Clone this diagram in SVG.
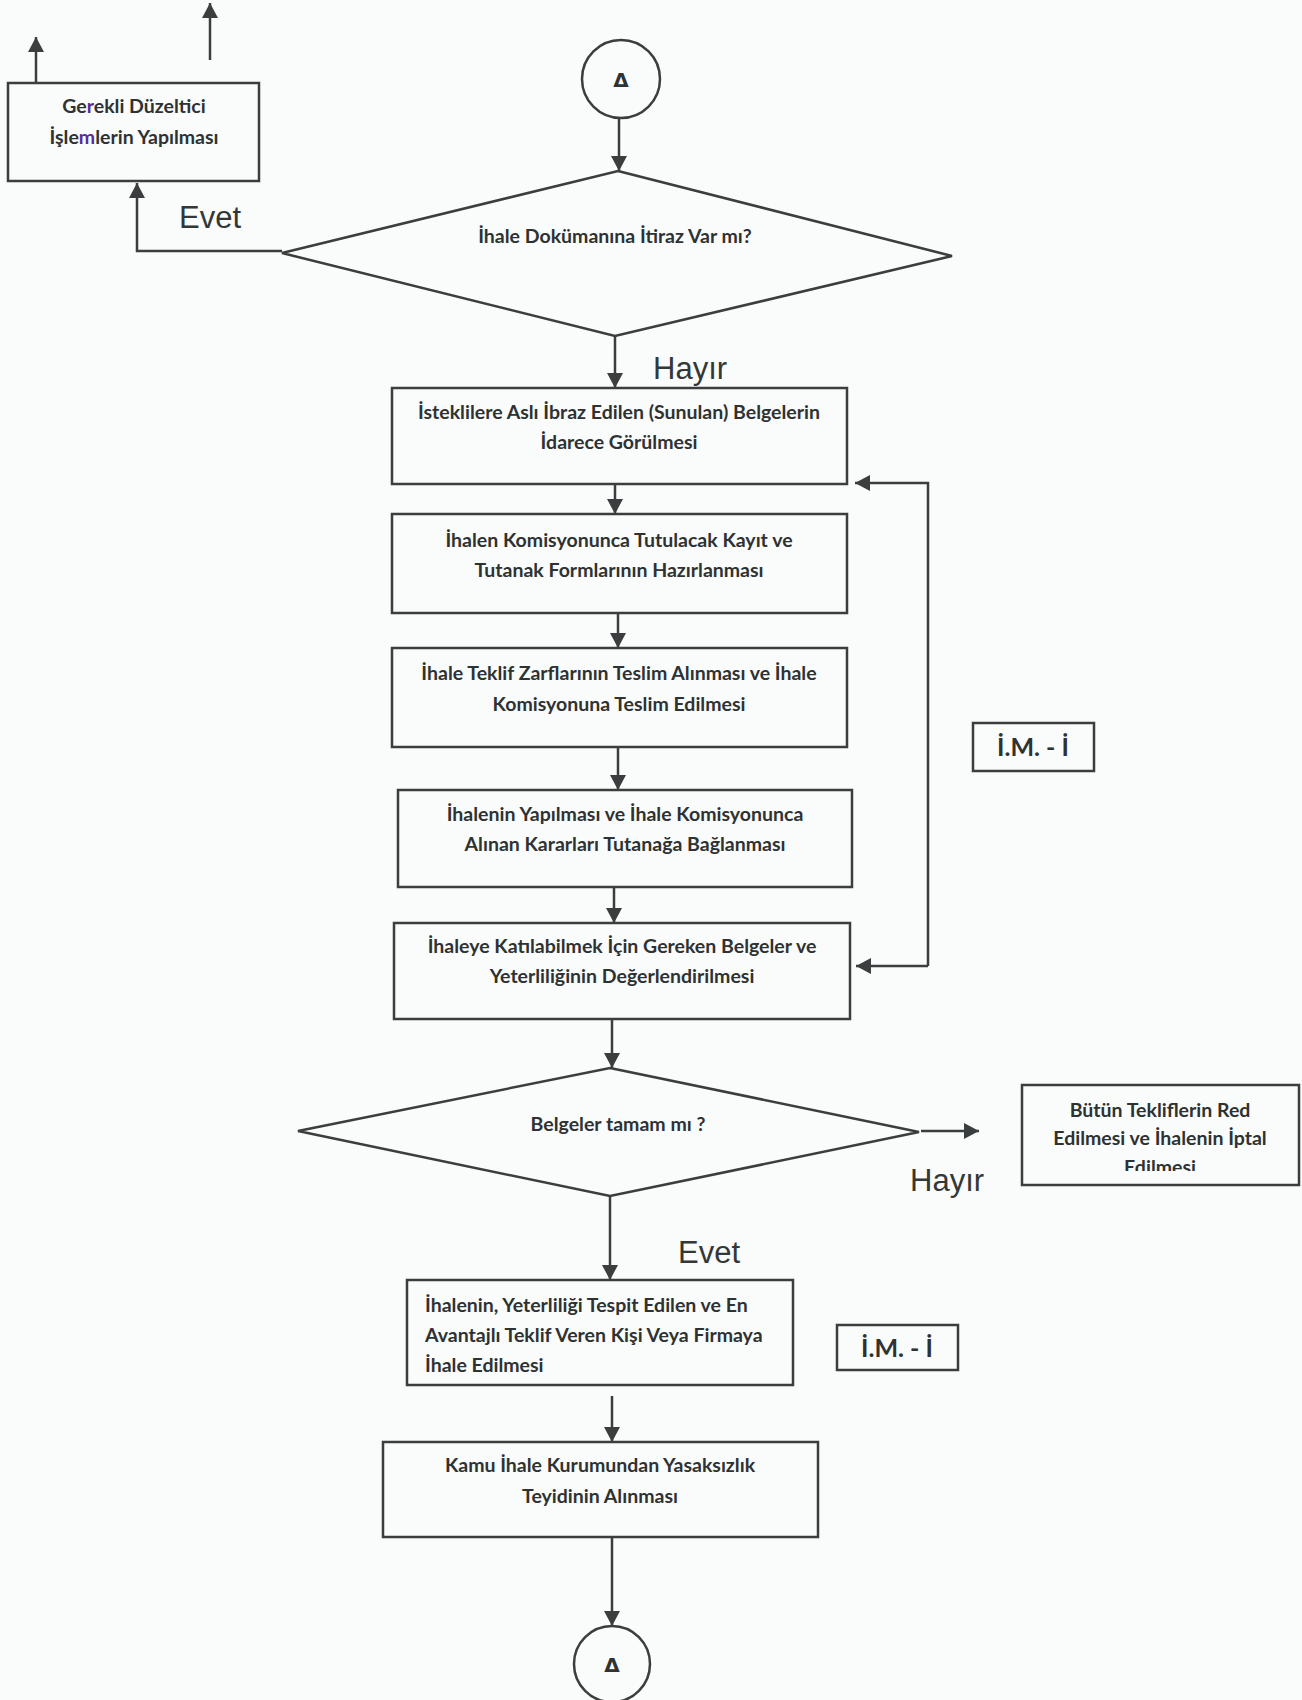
<svg xmlns="http://www.w3.org/2000/svg" width="1302" height="1700" viewBox="0 0 1302 1700">
<style>
.bg{fill:#fafbfb}
.shape{fill:none;stroke:#3a3e3e;stroke-width:2.5}
.conn{fill:none;stroke:#3a3e3e;stroke-width:2.5}
.t{font-family:Lato,"Open Sans","Noto Sans",sans-serif;font-weight:700;font-size:19.5px;fill:#2e3232;text-anchor:middle}
.tl{font-family:Lato,"Open Sans","Noto Sans",sans-serif;font-weight:700;font-size:19.5px;fill:#2e3232;text-anchor:start}
.lbl{font-family:"Liberation Sans",Arial,sans-serif;font-size:31px;fill:#333737}
.im{font-family:Lato,"Open Sans",sans-serif;font-weight:700;font-size:25px;fill:#2e3232;text-anchor:middle}
.sym{font-family:"DejaVu Sans",sans-serif;font-weight:700;font-size:20px;fill:#2e3232;text-anchor:middle}
</style>
<defs>
<marker id="ah" markerWidth="16" markerHeight="16" refX="15" refY="8" orient="auto" markerUnits="userSpaceOnUse">
<path d="M0,0 L15,8 L0,16 z" fill="#3a3e3e"/>
</marker>
<clipPath id="clipRed"><rect x="1022" y="1085" width="277" height="86"/></clipPath>
</defs>
<rect class="bg" x="0" y="0" width="1302" height="1700"/>

<g id="connectors">
<path class="conn" d="M619,118 V171" marker-end="url(#ah)"/>
<path class="conn" d="M282,251 H137 V183" marker-end="url(#ah)"/>
<path class="conn" d="M36,82 V37" marker-end="url(#ah)"/>
<path class="conn" d="M210,60 V3" marker-end="url(#ah)"/>
<path class="conn" d="M615,336 V388" marker-end="url(#ah)"/>
<path class="conn" d="M615,484 V514" marker-end="url(#ah)"/>
<path class="conn" d="M618,613 V648" marker-end="url(#ah)"/>
<path class="conn" d="M618,747 V790" marker-end="url(#ah)"/>
<path class="conn" d="M614,887 V923" marker-end="url(#ah)"/>
<path class="conn" d="M928,966 V483 H855" marker-end="url(#ah)"/>
<path class="conn" d="M928,966 H856" marker-end="url(#ah)"/>
<path class="conn" d="M612,1019 V1068" marker-end="url(#ah)"/>
<path class="conn" d="M921,1131 H979" marker-end="url(#ah)"/>
<path class="conn" d="M610,1196 V1280" marker-end="url(#ah)"/>
<path class="conn" d="M612,1396 V1442" marker-end="url(#ah)"/>
<path class="conn" d="M612,1537 V1626" marker-end="url(#ah)"/>
</g>

<g id="labels">
<text class="lbl" x="179" y="228">Evet</text>
<text class="lbl" x="653" y="379">Hayır</text>
<text class="lbl" x="910" y="1191">Hayır</text>
<text class="lbl" x="678" y="1263">Evet</text>
</g>

<g id="start">
<circle class="shape" cx="621" cy="79" r="39"/>
<text class="sym" x="621" y="87">Δ</text>
</g>

<g id="fix">
<rect class="shape" x="8" y="83" width="251" height="98"/>
<text class="t" x="134" y="113">Ge<tspan fill="#5b2a9a">r</tspan>ekli Düzeltici</text>
<text class="t" x="134" y="144">İşle<tspan fill="#5b2a9a">m</tspan>lerin Yapılması</text>
</g>

<g id="d1">
<polygon class="shape" points="618,171 952,256 615,336 282,253"/>
<text class="t" x="615" y="243">İhale Dokümanına İtiraz Var mı?</text>
</g>

<g id="b1">
<rect class="shape" x="392" y="388" width="455" height="96"/>
<text class="t" x="619" y="419">İsteklilere Aslı İbraz Edilen (Sunulan) Belgelerin</text>
<text class="t" x="619" y="449">İdarece Görülmesi</text>
</g>

<g id="b2">
<rect class="shape" x="392" y="514" width="455" height="99"/>
<text class="t" x="619" y="547">İhalen Komisyonunca Tutulacak Kayıt ve</text>
<text class="t" x="619" y="577">Tutanak Formlarının Hazırlanması</text>
</g>

<g id="b3">
<rect class="shape" x="392" y="648" width="455" height="99"/>
<text class="t" x="619" y="680">İhale Teklif Zarflarının Teslim Alınması ve İhale</text>
<text class="t" x="619" y="711">Komisyonuna Teslim Edilmesi</text>
</g>

<g id="b4">
<rect class="shape" x="398" y="790" width="454" height="97"/>
<text class="t" x="625" y="821">İhalenin Yapılması ve İhale Komisyonunca</text>
<text class="t" x="625" y="851">Alınan Kararları Tutanağa Bağlanması</text>
</g>

<g id="b5">
<rect class="shape" x="394" y="923" width="456" height="96"/>
<text class="t" x="622" y="953">İhaleye Katılabilmek İçin Gereken Belgeler ve</text>
<text class="t" x="622" y="983">Yeterliliğinin Değerlendirilmesi</text>
</g>

<g id="im1">
<rect class="shape" x="973" y="723" width="121" height="48"/>
<text class="im" x="1033" y="756">İ.M. - İ</text>
</g>

<g id="d2">
<polygon class="shape" points="610,1068 919,1132 610,1196 298,1131"/>
<text class="t" x="618" y="1131">Belgeler tamam mı ?</text>
</g>

<g id="red">
<rect class="shape" x="1022" y="1085" width="277" height="100"/>
<g clip-path="url(#clipRed)">
<text class="t" x="1160" y="1117">Bütün Tekliflerin Red</text>
<text class="t" x="1160" y="1145">Edilmesi ve İhalenin İptal</text>
<text class="t" x="1160" y="1174">Edilmesi</text>
</g>
</g>

<g id="b6">
<rect class="shape" x="407" y="1280" width="386" height="105"/>
<text class="tl" x="425" y="1312">İhalenin, Yeterliliği Tespit Edilen ve En</text>
<text class="tl" x="425" y="1342">Avantajlı Teklif Veren Kişi Veya Firmaya</text>
<text class="tl" x="425" y="1372">İhale Edilmesi</text>
</g>

<g id="im2">
<rect class="shape" x="837" y="1325" width="121" height="45"/>
<text class="im" x="897" y="1357">İ.M. - İ</text>
</g>

<g id="b7">
<rect class="shape" x="383" y="1442" width="435" height="95"/>
<text class="t" x="600" y="1472">Kamu İhale Kurumundan Yasaksızlık</text>
<text class="t" x="600" y="1503">Teyidinin Alınması</text>
</g>

<g id="end">
<circle class="shape" cx="612" cy="1664" r="38"/>
<text class="sym" x="612" y="1672">Δ</text>
</g>
</svg>
